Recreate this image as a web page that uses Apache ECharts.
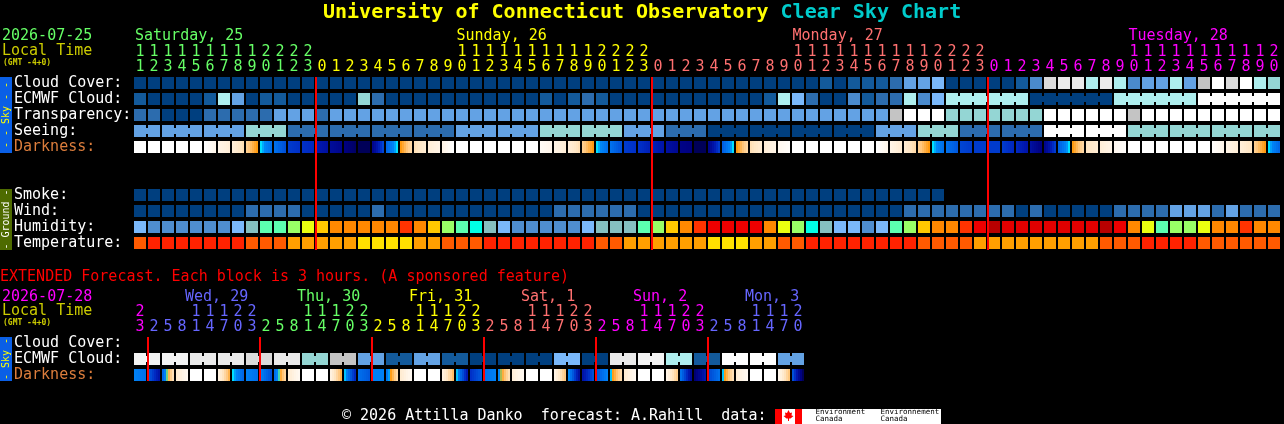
<!DOCTYPE html>
<html><head><meta charset="utf-8">
<style>html,body{margin:0;padding:0;background:#000}#c{width:1284px;height:424px}</style>
<script src="https://cdn.jsdelivr.net/npm/echarts@6/dist/echarts.min.js"></script>
</head><body><div id="c"></div>
<script>
// ---------- tick labels ----------
const hoursMain = [11,12,13,14,15,16,17,18,19,20,21,22,23,
  0,1,2,3,4,5,6,7,8,9,10,11,12,13,14,15,16,17,18,19,20,21,22,23,
  0,1,2,3,4,5,6,7,8,9,10,11,12,13,14,15,16,17,18,19,20,21,22,23,
  0,1,2,3,4,5,6,7,8,9,10,11,12,13,14,15,16,17,18,19,20];
const hoursExt = [23,
  2,5,8,11,14,17,20,23, 2,5,8,11,14,17,20,23, 2,5,8,11,14,17,20,23,
  2,5,8,11,14,17,20,23, 2,5,8,11,14,17,20,23, 2,5,8,11,14,17,20];
const midnightMain = [13,37,61];
const midnightExt = [1,9,17,25,33,41];
const dayNamesMain = ['Saturday, 25','Sunday, 26','Monday, 27','Tuesday, 28'];
const dayStartsMain = [0,13,37,61,82];
const dayNamesExt = ['Wed, 29','Thu, 30','Fri, 31','Sat, 1','Sun, 2','Mon, 3'];
const dayStartsExt = [0,1,9,17,25,33,41,48];
const rowsMain = ['Cloud Cover:','ECMWF Cloud:','Transparency:','Seeing:','Darkness:',' ','  ','Smoke:','Wind:','Humidity:','Temperature:'];
const rowsExt = ['Cloud Cover:','ECMWF Cloud:','Darkness:'];

// ---------- series values (class levels) ----------
const cloudCover = [0,0,0,0,0,0,0,0,0,0,0,0,0,0,0,0,0,0,0,0,0,0,0,0,0,0,0,0,0,0,0,0,0,0,0,0,0,0,0,0,0,0,0,0,0,0,0,0,0,
  1,0,1,1,1,2,4,4,5,0,0,0,0,0,1,3,11,9,9,6,9,6,3,4,4,6,4,8,10,11,10,6,7];
const ecmwfCloud = [1,0,0,0,0,1,6,4,0,1,1,0,0,0,0,0,7,2,0,0,0,0,0,0,0,0,0,0,0,1,0,1,2,1,0,0,0,0,0,0,0,0,0,0,0,1,6,5,2,0,0,3,
  1,2,2,6,3,5,6,6,6,6,6,6,0,0,0,0,0,0,6,6,6,6,6,6,10,10,10,10,10,10];
const transparency = [2,2,0,0,0,2,2,2,2,2,4,4,4,2,4,4,4,4,4,4,4,4,4,4,4,4,4,4,4,4,4,4,4,4,4,4,4,4,4,4,4,4,4,4,4,4,4,4,4,4,4,4,4,4,
  8,10,10,10,7,7,7,7,7,7,7,10,10,10,10,10,10,8,10,10,10,10,10,10,10,10,10,10];
const seeing = [4,4, 4,4,4, 4,4,4, 7,7,7, 2,2,2, 2,2,2, 2,2,2, 2,2,2, 4,4,4, 4,4,4, 7,7,7, 7,7,7, 4,4,4, 2,2,2,
  0,0,0, 0,0,0, 0,0,0, 0,0,0, 4,4,4, 7,7,7, 2,2,2, 2,2,2, 10,10,10, 10,10,10, 7,7,7, 7,7,7, 7,7,7, 7,7];
const darkFromMain = [0,0,0,0,0,0,10,14,28,41,50,62,64,70,76,84,90,80,52,39,22,14,10,0,0,0,0,0,0,4,10,14,28,41,50,62,64,68,74,82,90,80,54,39,22,14,6,0,0,0,0,0,
  0,0,10,16,28,41,50,60,62,62,62,66,74,80,54,39,20,14,6,0,0,0,0,0,0,2,10,14,28,41];
const darkToMain = [0,0,0,0,0,8,14,22,39,50,58,64,66,74,80,88,90,60,41,25,16,10,0,0,0,0,0,0,0,8,14,22,39,50,58,64,68,72,78,84,90,62,41,25,16,10,2,0,0,0,0,0,
  0,8,16,24,39,50,56,62,62,62,66,72,84,62,41,25,16,10,2,0,0,0,0,0,0,8,14,20,39,52];
const smoke = [0,0,0,0,0,0,0,0,0,0,0,0,0,0,0,0,0,0,0,0,0,0,0,0,0,0,0,0,0,0,0,0,0,0,0,0,0,0,0,0,0,0,0,0,0,0,0,0,0,0,0,0,0,0,0,0,0,0];
const wind = [0,0,0,0,0,0,0,0,2,2,2,2,0,0,0,0,0,2,0,0,0,0,0,0,0,0,0,0,0,0,2,2,2,2,2,2,0,0,0,0,0,0,0,0,0,0,0,0,0,0,0,0,
  0,0,0,2,2,2,2,2,2,2,2,0,2,0,0,0,0,0,2,2,2,2,4,4,4,2,4,2,2,2];
const humidity = [1,2,2,2,2,2,2,1,3,4,4,6,7,8,9,9,9,9,9,10,9,8,6,4,5,3,1,2,2,2,2,2,1,3,3,3,4,6,8,9,10,11,11,11,11,9,7,6,5,3,1,1,
  2,1,4,6,8,9,9,10,11,13,12,12,12,12,12,12,12,13,11,9,7,4,6,6,7,9,9,10,9,9];
const temperature = [3,4,4,4,4,4,4,4,3,3,3,2,2,2,2,2,1,1,1,1,2,2,3,3,3,4,4,4,4,4,4,4,4,3,3,2,2,2,2,2,2,1,1,1,2,2,3,3,4,4,4,4,
  4,4,4,4,3,3,3,3,2,2,2,2,2,2,2,2,2,3,3,3,4,4,4,4,3,3,3,3,3,3];
const ecmwfExtPairs = [12,12,9,9,11,9,7,8,4,1,4,1,0,0,0,5,0,9,12,6,1,10,10,4];
const darkFromExt = [46,56,52,16,0,0,12,41,46,46,50,16,0,0,12,42,50,46,48,16,0,0,12,42,64,50,44,14,0,0,10,44,72,56,42,16,0,0,10,50,86,60,42,14,0,0,8,58];
const darkToExt = [50,72,22,6,0,0,34,52,50,58,26,6,0,0,34,66,56,46,24,6,0,0,32,70,56,46,22,6,0,0,30,74,58,46,24,6,0,0,28,76,70,50,22,6,0,0,30,90];
// blocks of cells that one forecast value spans
const seeingBlocks = [2].concat(Array(26).fill(3), [2]);
const ecmwfBlocks = Array(58).fill(1).concat([6,6,6,6]);
const ecmwfExtBlocks = Array(24).fill(2);

// ---------- styles ----------
const skyColors = ['#003f7f','#135a9b','#2c6cae','#4a8acc','#63a2e4','#7ab8fa','#aeeeee','#94d6d4','#c4c4c4','#eaeaea','#ffffff','#dadada','#f3f3f3'];
const humidityColors = [null,'#7ab8fa','#4f8ed0','#85c0c0','#5cffb0','#00ffe6','#99ff66','#eaff10','#ffc800','#ff8800','#ff3300','#ee0000','#e00000','#b80000'];
const tempColors = [null,'#ffe000','#ff9f00','#ff5a00','#ff2200'];
const darkRamp = [[0,'#ffffff'],[10,'#fff4e6'],[20,'#ffe6c4'],[30,'#ffc880'],[39,'#ff9a10'],[40,'#70d080'],[41,'#00e0ff'],[44,'#0088f8'],[50,'#0070ec'],[58,'#0050d8'],[64,'#0030c8'],[70,'#0018b0'],[76,'#000c98'],[84,'#000080'],[90,'#000058']];
const FONT = '"DejaVu Sans Mono", monospace';
const GREEN='#66ff66',YELLOW='#ffff00',SALMON='#ff7070',MAGENTA='#ff00ff',VIOLET='#6666ff';
const mainDayColors=[GREEN,YELLOW,SALMON,MAGENTA];
const extDayColors=[MAGENTA,VIOLET,GREEN,YELLOW,SALMON,MAGENTA,VIOLET];

function hex(c){return [1,3,5].map(i=>parseInt(c.substr(i,2),16));}
function rampColor(t){
  if(t<=0)return darkRamp[0][1];
  for(let k=1;k<darkRamp.length;k++){
    if(t<=darkRamp[k][0]){
      const [a,ca]=darkRamp[k-1],[b,cb]=darkRamp[k],f=(t-a)/(b-a),A=hex(ca),B=hex(cb);
      return 'rgb('+A.map((v,j)=>Math.round(v+(B[j]-v)*f)).join(',')+')';
    }
  }
  return darkRamp[darkRamp.length-1][1];
}
function linksFrom(blocks){
  const links={};let at=0;
  blocks.forEach(n=>{for(let j=0;j<n-1;j++)links[at+j]=true;at+=n;});
  return links;
}
function cellSeries(axis,row,values,palette,blocks){
  const links=blocks?linksFrom(blocks):{};
  return {name:row,type:'custom',xAxisIndex:axis,yAxisIndex:axis,encode:{x:0,y:1},silent:true,
    data:values.map((v,i)=>[i,row,v]),
    renderItem(p,api){
      const i=api.value(0),o=api.coord([i,api.value(1)]),s=api.size([1,1]);
      const fill=palette[api.value(2)],ch=[{type:'rect',shape:{x:o[0],y:o[1]-s[1]/2+2,width:s[0]-2,height:s[1]-4},style:{fill}}];
      if(links[i])ch.push({type:'rect',shape:{x:o[0]+s[0]-2,y:o[1]-3,width:2,height:6},style:{fill}});
      return {type:'group',children:ch};
    }};
}
function darkSeries(axis,row,from,to){
  return {name:row,type:'custom',xAxisIndex:axis,yAxisIndex:axis,encode:{x:0,y:1},silent:true,
    data:from.map((v,i)=>[i,row,v,to[i]]),
    renderItem(p,api){
      const o=api.coord([api.value(0),api.value(1)]),s=api.size([1,1]),a=api.value(2),b=api.value(3),w=(s[0]-2)/6,ch=[];
      for(let k=0;k<6;k++)ch.push({type:'rect',shape:{x:o[0]+k*w,y:o[1]-s[1]/2+2,width:w,height:s[1]-4},style:{fill:rampColor(a+(b-a)*k/5)}});
      return {type:'group',children:ch};
    }};
}
function nightLines(axis,data,lastRow,extra){
  return {name:'Midnight',type:'custom',xAxisIndex:axis,yAxisIndex:axis,encode:{x:0},silent:true,z:5,
    data:data.map(v=>[v]),
    renderItem(p,api){
      const x=api.value(0),t=api.coord([x,0]),b=api.coord([x,lastRow]),s=api.size([1,1]);
      const y0=t[1]-s[1]/2+2,y1=b[1]+s[1]/2-2+extra;
      return {type:'rect',shape:{x:t[0]-1,y:y0,width:2,height:y1-y0},style:{fill:'#ff0000'}};
    }};
}
function dayOf(starts,i){let d=0;while(d+1<starts.length-1&&i>=starts[d+1])d++;return d;}
const tens=h=>h>=10?String(Math.floor(h/10)):'';
const ones=h=>String(h%10);
function hourAxis(grid,hours,starts,colors,fmt,offset){
  return {type:'category',gridIndex:grid,position:'top',offset,data:hours.map(fmt),
    axisLine:{show:false},axisTick:{show:false},splitLine:{show:false},
    axisLabel:{show:true,interval:0,margin:0,hideOverlap:false,fontFamily:FONT,fontSize:15,
      color:(v,i)=>colors[dayOf(starts,i)]}};
}
function rowAxis(grid,rows){
  return {type:'category',gridIndex:grid,inverse:true,data:rows,axisLine:{show:false},axisTick:{show:false},splitLine:{show:false},
    axisLabel:{show:true,interval:0,align:'left',margin:120,fontFamily:FONT,fontSize:15,
      color:v=>v==='Darkness:'?'#dc7d3c':'#ffffff'}};
}
const hiddenX=(grid,max)=>({type:'value',gridIndex:grid,min:0,max,show:false,splitLine:{show:false}});
const hiddenY=grid=>({type:'value',gridIndex:grid,show:false,splitLine:{show:false}});
function txt(x,y,text,fill,size,weight){
  return {type:'text',x,y,silent:true,style:{text,fill,font:(weight||'normal')+' '+(size||15)+'px '+FONT,textVerticalAlign:'middle'}};
}
function band(y,h,fill,label,color){
  return [{type:'rect',silent:true,shape:{x:0,y,width:12,height:h},style:{fill}},
    {type:'text',silent:true,x:6,y:y+h/2,rotation:Math.PI/2,style:{text:label,fill:color,font:'10px '+FONT,textAlign:'center',textVerticalAlign:'middle'}}];
}
const dayTextsMain=dayNamesMain.map((n,d)=>txt([135,456.5,792.5,1128.5][d],36,n,mainDayColors[d]));
const dayTextsExt=dayNamesExt.map((n,d)=>txt(185+112*d,297,n,extDayColors[d+1]));

const option={
  backgroundColor:'#000',animation:false,
  title:{left:323,top:3,padding:0,text:'{a|University of Connecticut Observatory }{b|Clear Sky Chart}',
    textStyle:{rich:{a:{color:'#ffff00',fontFamily:FONT,fontSize:20,fontWeight:'bold'},b:{color:'#00cccc',fontFamily:FONT,fontSize:20,fontWeight:'bold'}}}},
  grid:[
    {left:134,top:75,width:1148,height:176,outerBoundsMode:'none'},
    {left:134,top:335,width:672,height:48,outerBoundsMode:'none'},
    {left:133,top:75,width:1148,height:1,outerBoundsMode:'none'},
    {left:133,top:335,width:672,height:1,outerBoundsMode:'none'}
  ],
  xAxis:[hiddenX(0,hoursMain.length),hiddenX(1,hoursExt.length),
    hourAxis(2,hoursMain,dayStartsMain,mainDayColors,ones,0),hourAxis(2,hoursMain,dayStartsMain,mainDayColors,tens,15),
    hourAxis(3,hoursExt,dayStartsExt,extDayColors,ones,0),hourAxis(3,hoursExt,dayStartsExt,extDayColors,tens,15)],
  yAxis:[rowAxis(0,rowsMain),rowAxis(1,rowsExt),hiddenY(2),hiddenY(3)],
  series:[
    cellSeries(0,'Cloud Cover:',cloudCover,skyColors),
    cellSeries(0,'ECMWF Cloud:',ecmwfCloud,skyColors,ecmwfBlocks),
    cellSeries(0,'Transparency:',transparency,skyColors),
    cellSeries(0,'Seeing:',seeing,skyColors,seeingBlocks),
    darkSeries(0,'Darkness:',darkFromMain,darkToMain),
    cellSeries(0,'Smoke:',smoke,skyColors),
    cellSeries(0,'Wind:',wind,skyColors),
    cellSeries(0,'Humidity:',humidity,humidityColors),
    cellSeries(0,'Temperature:',temperature,tempColors),
    nightLines(0,midnightMain,10,1),
    cellSeries(1,'ECMWF Cloud:',ecmwfExtPairs.flatMap(v=>[v,v]),skyColors,ecmwfExtBlocks),
    darkSeries(1,'Darkness:',darkFromExt,darkToExt),
    nightLines(1,midnightExt,2,0)
  ],
  graphic:{elements:[
    txt(2,36,'2026-07-25',GREEN),txt(2,51,'Local Time','#cccc00'),txt(3,63,'(GMT -4+0)','#cccc00',8,'bold'),
    ...dayTextsMain,
    ...band(77,76,'#0a5fe6','- - Sky - -','#ffff00'),
    ...band(189,61,'#4e6b00','- Ground -','#ffffff'),
    txt(0,277,'EXTENDED Forecast. Each block is 3 hours. (A sponsored feature)','#ff0000'),
    txt(2,297,'2026-07-28',MAGENTA),txt(2,311,'Local Time','#cccc00'),txt(3,323,'(GMT -4+0)','#cccc00',8,'bold'),
    ...dayTextsExt,
    ...band(337,44,'#0a5fe6','- Sky -','#ffff00'),
    txt(342,416,'\u00a9 2026 Attilla Danko  forecast: A.Rahill  data:','#ffffff'),
    {type:'rect',silent:true,shape:{x:775,y:409,width:166,height:15},style:{fill:'#fff'}},
    {type:'rect',silent:true,shape:{x:775,y:409,width:7,height:15},style:{fill:'#f00'}},
    {type:'rect',silent:true,shape:{x:795,y:409,width:7,height:15},style:{fill:'#f00'}},
    {type:'polygon',silent:true,shape:{points:[[788.5,410],[790,413],[792,412.5],[791.5,415.5],[793.5,416],[790.5,418.5],[789,418.5],[789,421],[788,421],[788,418.5],[786.5,418.5],[783.5,416],[785.5,415.5],[785,412.5],[787,413]]},style:{fill:'#f00'}},
    txt(815.5,412.5,'Environment','#000',7.5),txt(815.5,419,'Canada','#000',7.5),
    txt(880.5,412.5,'Environnement','#000',7.5),txt(880.5,419,'Canada','#000',7.5)
  ]}
};
echarts.init(document.getElementById('c')).setOption(option);
</script></body></html>
